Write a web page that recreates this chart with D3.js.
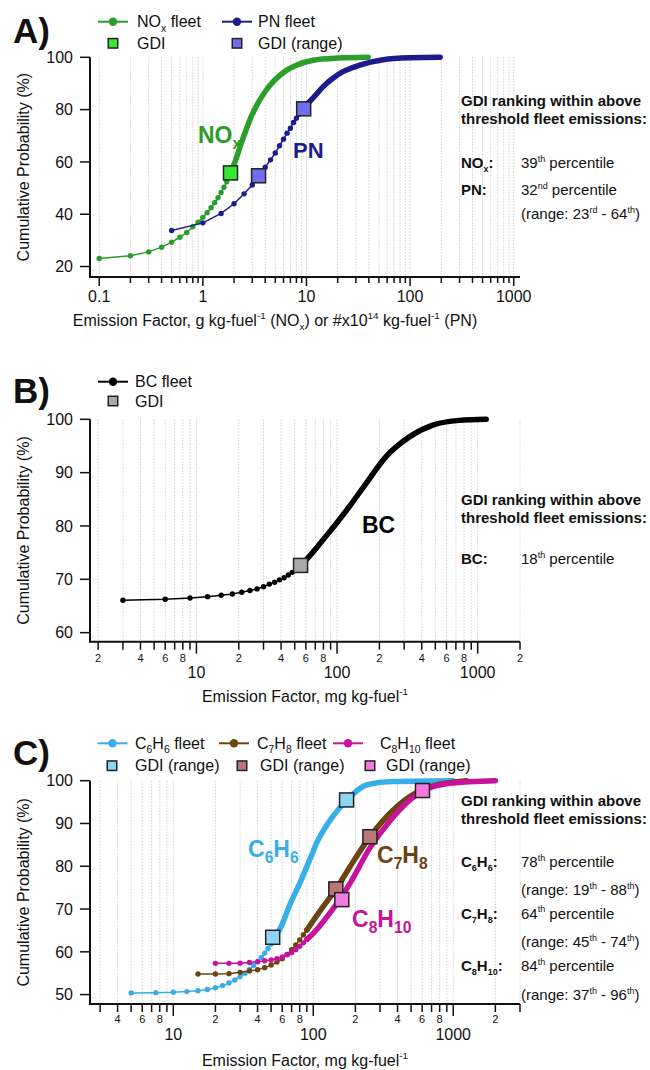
<!DOCTYPE html>
<html>
<head>
<meta charset="utf-8">
<script src="https://cdn.jsdelivr.net/npm/d3@7"></script>
<style>
  body { margin: 0; background: #fff; }
  svg { display: block; font-family: "Liberation Sans", Arial, sans-serif; }
</style>
</head>
<body>
<svg id="chart" width="650" height="1070"></svg>
<script>
// ######## Panel A: NOx and PN fleet, cumulative probability (%)
// points = single bins drawn with markers, curve = dense part drawn as a thick line
const noxPoints = [[0.1, 23.1], [0.2, 24.1], [0.3, 25.6], [0.4, 27.4], [0.5, 29.3], [0.6, 31.2],
  [0.7, 33.0], [0.8, 35.2], [0.9, 37.0], [1.0, 38.8], [1.1, 40.6], [1.2, 42.5], [1.3, 44.4],
  [1.4, 46.3], [1.5, 48.3], [1.6, 50.3], [1.7, 52.4], [1.8, 54.5], [1.9, 56.7], [2.0, 58.9]];
const noxCurve = [[2.0, 58.9], [2.26, 65.2], [2.6, 72.0], [2.93, 77.3], [3.5, 83.3], [4.1, 87.5],
  [5.0, 91.5], [6.4, 95.0], [8.0, 97.0], [11.6, 98.9], [20, 99.7], [39.4, 100]];
const noxGdi = [[1.85, 55.8]];

const pnPoints = [[0.5, 33.8], [1.0, 36.7], [1.5, 40.3], [2.0, 44.0], [2.5, 47.8], [3.0, 51.2],
  [3.5, 54.6], [4.0, 58.0], [4.5, 60.8], [5.0, 63.4], [5.5, 66.2], [6.0, 68.7], [6.5, 71.0],
  [7.0, 72.9], [7.5, 75.1], [8.0, 76.7], [8.5, 78.3], [9.0, 79.7], [9.5, 81.0]];
const pnCurve = [[9.5, 81.0], [11.6, 84.5], [14.5, 88.8], [18, 92.0], [22.5, 94.5], [32.7, 97.0],
  [55, 99.1], [100, 99.8], [195, 100]];
const pnGdi = [[3.45, 54.7], [9.4, 80.3]];

// ######## Panel B: BC fleet
const bcPoints = [[3, 66.07], [6, 66.26], [9, 66.5], [12, 66.75], [15, 67.0], [18, 67.25],
  [21, 67.57], [24, 67.9], [27, 68.2], [30, 68.6], [33, 69.1], [36, 69.45], [39, 69.9],
  [42, 70.3], [45, 70.8], [48, 71.3], [51, 71.9]];
const bcCurve = [[51, 71.9], [60, 73.6], [83, 78.0], [122, 83.6], [161, 88.0], [223, 93.0],
  [327, 96.7], [479, 98.9], [741, 99.8], [1150, 100]];
const bcGdi = [[55, 72.6]];

// ######## Panel C: aromatics fleet
const c6h6Points = [[5, 50.4], [7.5, 50.45], [10, 50.55], [12.5, 50.7], [15, 50.9], [17.5, 51.2],
  [20, 51.6], [22.5, 52.1], [25, 52.7], [27.5, 53.4], [30, 54.2], [32.5, 55.0], [35, 55.9],
  [37.5, 56.8], [40, 57.7], [42.5, 58.7], [45, 59.7], [47.5, 60.8], [50, 61.9]];
const c6h6Curve = [[50, 61.9], [60, 66.5], [68, 71.0], [80, 76.0], [97, 82.5], [106, 85.5],
  [139, 91.8], [173, 95.4], [240, 99.0], [373, 99.8], [1000, 100]];
const c6h6Gdi = [[51.3, 63.4], [173, 95.5]];

const c7h8Points = [[15, 54.8], [20, 54.8], [25, 54.9], [30, 55.2], [35, 55.5], [40, 55.8],
  [45, 56.3], [50, 56.9], [55, 57.6], [60, 58.4], [65, 59.4], [70, 60.5], [75, 61.6],
  [80, 62.8], [85, 64.0], [90, 65.1]];
const c7h8Curve = [[90, 65.1], [118, 70.6], [145, 74.6], [183, 79.9], [254, 86.9], [353, 92.4],
  [490, 96.3], [720, 98.8], [1250, 100]];
const c7h8Gdi = [[145, 74.7], [254, 86.9]];

const c8h10Points = [[20, 57.3], [25, 57.3], [30, 57.35], [35, 57.5], [40, 57.7], [45, 57.9],
  [50, 58.1], [55, 58.4], [60, 58.8], [65, 59.3], [70, 59.8], [75, 60.5], [80, 61.3],
  [85, 62.1], [90, 62.9]];
const c8h10Curve = [[90, 62.9], [100, 64.3], [131, 69.0], [155, 72.3], [183, 76.0], [254, 84.3],
  [353, 90.6], [603, 97.6], [946, 99.4], [2000, 100]];
const c8h10Gdi = [[160, 72.2], [603, 97.7]];

// ######## Axis ticks
const yTicksA = [20, 40, 60, 80, 100];
const yTicksB = [60, 70, 80, 90, 100];
const yTicksC = [50, 60, 70, 80, 90, 100];
const minorLabelDigits = [2, 4, 6, 8];

// ######## Ranking texts: [text, 'sub' | 'sup' | undefined]
const rankHeader = ["GDI ranking within above", "threshold fleet emissions:"];
const rankA = [
  { label: [["NO"], ["x", "sub"], [":"]], value: [["39"], ["th", "sup"], [" percentile"]] },
  { label: [["PN:"]], value: [["32"], ["nd", "sup"], [" percentile"]] },
  { label: [], value: [["(range: 23"], ["rd", "sup"], [" - 64"], ["th", "sup"], [")"]] }
];
const rankB = [
  { label: [["BC:"]], value: [["18"], ["th", "sup"], [" percentile"]] }
];
const rankC = [
  { label: [["C"], ["6", "sub"], ["H"], ["6", "sub"], [":"]], value: [["78"], ["th", "sup"], [" percentile"]] },
  { label: [], value: [["(range: 19"], ["th", "sup"], [" - 88"], ["th", "sup"], [")"]] },
  { label: [["C"], ["7", "sub"], ["H"], ["8", "sub"], [":"]], value: [["64"], ["th", "sup"], [" percentile"]] },
  { label: [], value: [["(range: 45"], ["th", "sup"], [" - 74"], ["th", "sup"], [")"]] },
  { label: [["C"], ["8", "sub"], ["H"], ["10", "sub"], [":"]], value: [["84"], ["th", "sup"], [" percentile"]] },
  { label: [], value: [["(range: 37"], ["th", "sup"], [" - 96"], ["th", "sup"], [")"]] }
];

const svg = d3.select("#chart");

// ######## text with sub / superscripts
function richText(g, x, y, parts, size, opts) {
  opts = opts || {};
  var t = g.append("text")
    .attr("x", x).attr("y", y)
    .attr("font-size", size)
    .attr("text-anchor", opts.anchor || "start")
    .attr("font-weight", opts.bold ? "bold" : null)
    .attr("fill", opts.fill || "#111");
  var shift = 0;
  parts.forEach(function (p) {
    var kind = p[1];
    var target = kind === "sub" ? size * 0.28 : kind === "sup" ? -size * 0.42 : 0;
    t.append("tspan")
      .attr("dy", target - shift)
      .attr("font-size", kind ? size * (opts.smallScale || 0.62) : null)
      .text(p[0]);
    shift = target;
  });
  return t;
}

function square(g, cx, cy, s, fill) {
  g.append("rect")
    .attr("x", cx - s / 2).attr("y", cy - s / 2)
    .attr("width", s).attr("height", s)
    .attr("fill", fill).attr("stroke", "#222").attr("stroke-width", 1.5);
}

// ######## one panel: grid, axes, series, squares
function drawPanel(p) {
  var x = d3.scaleLog().domain(p.xDomain).range([90, 520]);
  var y = d3.scaleLinear().domain(p.yDomain).range([p.bottom, p.top]);
  var g = svg.append("g");

  var ticks = x.ticks().filter(function (v) { return v >= p.tickMin && v <= p.xDomain[1] * 1.0001; });
  var isMajor = function (v) { return Math.abs(Math.log10(v) - Math.round(Math.log10(v))) < 1e-6; };
  var digit = function (v) { return Math.round(v / Math.pow(10, Math.floor(Math.log10(v) + 1e-9))); };

  // dotted grid
  g.selectAll(".grid").data(ticks).enter().append("line")
    .attr("x1", d => x(d)).attr("x2", d => x(d))
    .attr("y1", y(100)).attr("y2", p.bottom)
    .attr("stroke", "#c4c4c4").attr("stroke-width", 0.8)
    .attr("stroke-dasharray", "1.5,1.5");

  // x ticks
  g.selectAll(".xtick").data(ticks).enter().append("line")
    .attr("x1", d => x(d)).attr("x2", d => x(d))
    .attr("y1", p.bottom).attr("y2", d => p.bottom + (isMajor(d) ? p.majorLen : p.minorLen))
    .attr("stroke", "#111").attr("stroke-width", 1.5);

  g.selectAll(".xlab").data(ticks.filter(isMajor)).enter().append("text")
    .attr("x", d => x(d)).attr("y", p.bottom + p.majorLabelDy)
    .attr("text-anchor", "middle").attr("font-size", 16).attr("fill", "#111")
    .text(d => d3.format("~g")(d));

  if (p.minorLabels) {
    g.selectAll(".xminlab").data(ticks.filter(d => !isMajor(d) && minorLabelDigits.indexOf(digit(d)) >= 0))
      .enter().append("text")
      .attr("x", d => x(d)).attr("y", p.bottom + p.minorLabelDy)
      .attr("text-anchor", "middle").attr("font-size", 11).attr("fill", "#111")
      .text(d => digit(d));
  }

  // y ticks
  g.selectAll(".ytick").data(p.yTicks).enter().append("line")
    .attr("x1", 80).attr("x2", 90)
    .attr("y1", d => y(d)).attr("y2", d => y(d))
    .attr("stroke", "#111").attr("stroke-width", 1.5);
  g.selectAll(".ylab").data(p.yTicks).enter().append("text")
    .attr("x", 73).attr("y", d => y(d)).attr("dy", "0.36em")
    .attr("text-anchor", "end").attr("font-size", 16).attr("fill", "#111")
    .text(d => d);

  // axis lines
  g.append("path")
    .attr("d", "M90," + y(100) + "V" + p.bottom + "H520")
    .attr("fill", "none").attr("stroke", "#111").attr("stroke-width", 2);

  // y title
  g.append("text")
    .attr("transform", "translate(29," + ((y(100) + p.bottom) / 2) + ") rotate(-90)")
    .attr("text-anchor", "middle").attr("font-size", 16).attr("fill", "#111")
    .text("Cumulative Probability (%)");

  // x title
  richText(g, p.titleX, p.bottom + p.titleDy, p.title, 16, { anchor: "middle" });

  // series
  var line = d3.line().x(d => x(d[0])).y(d => y(d[1]));
  var smooth = d3.line().x(d => x(d[0])).y(d => y(d[1])).curve(d3.curveMonotoneX);
  p.series.forEach(function (s) {
    g.append("path").attr("d", smooth(s.curve))
      .attr("fill", "none").attr("stroke", s.color)
      .attr("stroke-width", 5.5).attr("stroke-linecap", "round");
    g.append("path").attr("d", line(s.points))
      .attr("fill", "none").attr("stroke", s.color).attr("stroke-width", 1.5);
    g.selectAll(null).data(s.points).enter().append("circle")
      .attr("cx", d => x(d[0])).attr("cy", d => y(d[1])).attr("r", 2.7)
      .attr("fill", s.color);
  });
  p.series.forEach(function (s) {
    s.gdi.forEach(function (d) { square(g, x(d[0]), y(d[1]), 14, s.gdiFill); });
  });

  // curve labels
  p.labels.forEach(function (l) {
    richText(g, l.x, l.y, l.parts, l.size, { bold: true, fill: l.color, smallScale: 0.68 });
  });

  // legend
  p.legend.forEach(function (l) {
    if (l.kind === "line") {
      g.append("line").attr("x1", l.x - 15).attr("x2", l.x + 15)
        .attr("y1", l.y).attr("y2", l.y)
        .attr("stroke", l.color).attr("stroke-width", 2);
      g.append("circle").attr("cx", l.x).attr("cy", l.y).attr("r", 4.2).attr("fill", l.color);
    } else {
      square(g, l.x, l.y, 9.5, l.color);
    }
    richText(g, l.tx, l.y + 5.5, l.text, 16, { smallScale: 0.65 });
  });

  // panel letter
  g.append("text").attr("x", 13).attr("y", p.letterY)
    .attr("font-size", 35).attr("font-weight", "bold").attr("fill", "#111")
    .text(p.letter);

  // ranking block
  richText(g, 461, p.rankY[0], [[rankHeader[0]]], 15, { bold: true });
  richText(g, 461, p.rankY[1], [[rankHeader[1]]], 15, { bold: true });
  p.rank.forEach(function (r, i) {
    if (r.label.length) richText(g, 461, p.rankRows[i], r.label, 15, { bold: true, smallScale: 0.6 });
    richText(g, 521, p.rankRows[i], r.value, 15, { smallScale: 0.6 });
  });
}

const colNox = "#2a9d2a", colPn = "#1c1c8c", colBc = "#000000";
const colC6 = "#36aeea", colC7 = "#6b4411", colC8 = "#c8129b";
const kgFuel = [["Emission Factor, mg kg-fuel"], ["-1", "sup"]];

drawPanel({
  letter: "A)", letterY: 43,
  xDomain: [0.0815, 1150], tickMin: 0.1, yDomain: [16, 100], top: 57.3, bottom: 277,
  yTicks: yTicksA, minorLabels: false, majorLen: 9, minorLen: 6, majorLabelDy: 25,
  title: [["Emission Factor, g kg-fuel"], ["-1", "sup"], [" (NO"], ["x", "sub"], [") or #x10"],
    ["14", "sup"], [" kg-fuel"], ["-1", "sup"], [" (PN)"]],
  titleX: 275, titleDy: 49,
  series: [
    { points: noxPoints, curve: noxCurve, gdi: noxGdi, color: colNox, gdiFill: "#33e833" },
    { points: pnPoints, curve: pnCurve, gdi: pnGdi, color: colPn, gdiFill: "#6e6ef0" }
  ],
  labels: [
    { x: 198, y: 143, size: 23, color: colNox, parts: [["NO"], ["x", "sub"]] },
    { x: 293, y: 158, size: 22, color: colPn, parts: [["PN"]] }
  ],
  legend: [
    { kind: "line", x: 113, y: 21.7, color: colNox, tx: 137, text: [["NO"], ["x", "sub"], [" fleet"]] },
    { kind: "line", x: 237, y: 21.7, color: colPn, tx: 258, text: [["PN fleet"]] },
    { kind: "sq", x: 113, y: 43.3, color: "#33e833", tx: 137, text: [["GDI"]] },
    { kind: "sq", x: 237, y: 43.3, color: "#6e6ef0", tx: 258, text: [["GDI (range)"]] }
  ],
  rankY: [106, 123.5], rank: rankA, rankRows: [168, 195, 219]
});

drawPanel({
  letter: "B)", letterY: 403,
  xDomain: [1.75, 2000], tickMin: 1.75, yDomain: [58.3, 100], top: 419.3, bottom: 641.7,
  yTicks: yTicksB, minorLabels: true, majorLen: 12, minorLen: 8, majorLabelDy: 36, minorLabelDy: 20,
  title: kgFuel, titleX: 305, titleDy: 60,
  series: [
    { points: bcPoints, curve: bcCurve, gdi: bcGdi, color: colBc, gdiFill: "#a9a9a9" }
  ],
  labels: [
    { x: 362, y: 533, size: 23, color: colBc, parts: [["BC"]] }
  ],
  legend: [
    { kind: "line", x: 113, y: 381.7, color: colBc, tx: 135, text: [["BC fleet"]] },
    { kind: "sq", x: 113, y: 401, color: "#a9a9a9", tx: 135, text: [["GDI"]] }
  ],
  rankY: [505, 522.7], rank: rankB, rankRows: [564]
});

drawPanel({
  letter: "C)", letterY: 765,
  xDomain: [2.54, 3000], tickMin: 2.54, yDomain: [47.8, 100], top: 780.7, bottom: 1004,
  yTicks: yTicksC, minorLabels: true, majorLen: 12, minorLen: 8, majorLabelDy: 36, minorLabelDy: 19,
  title: kgFuel, titleX: 305, titleDy: 62,
  series: [
    { points: c6h6Points, curve: c6h6Curve, gdi: c6h6Gdi, color: colC6, gdiFill: "#8fd3f7" },
    { points: c7h8Points, curve: c7h8Curve, gdi: c7h8Gdi, color: colC7, gdiFill: "#b97876" },
    { points: c8h10Points, curve: c8h10Curve, gdi: c8h10Gdi, color: colC8, gdiFill: "#f27ade" }
  ],
  labels: [
    { x: 248, y: 857, size: 23, color: colC6, parts: [["C"], ["6", "sub"], ["H"], ["6", "sub"]] },
    { x: 377, y: 863, size: 23, color: colC7, parts: [["C"], ["7", "sub"], ["H"], ["8", "sub"]] },
    { x: 352, y: 927, size: 23, color: colC8, parts: [["C"], ["8", "sub"], ["H"], ["10", "sub"]] }
  ],
  legend: [
    { kind: "line", x: 112.5, y: 743.3, color: colC6, tx: 135, text: [["C"], ["6", "sub"], ["H"], ["6", "sub"], [" fleet"]] },
    { kind: "line", x: 234, y: 743.3, color: colC7, tx: 257, text: [["C"], ["7", "sub"], ["H"], ["8", "sub"], [" fleet"]] },
    { kind: "line", x: 348, y: 743.3, color: colC8, tx: 380, text: [["C"], ["8", "sub"], ["H"], ["10", "sub"], [" fleet"]] },
    { kind: "sq", x: 112, y: 765.7, color: "#8fd3f7", tx: 135, text: [["GDI (range)"]] },
    { kind: "sq", x: 242, y: 765.7, color: "#b97876", tx: 260, text: [["GDI (range)"]] },
    { kind: "sq", x: 370, y: 765.7, color: "#f27ade", tx: 386, text: [["GDI (range)"]] }
  ],
  rankY: [806, 824], rank: rankC, rankRows: [867, 895, 918.5, 947, 971, 1000]
});
</script>
</body>
</html>
